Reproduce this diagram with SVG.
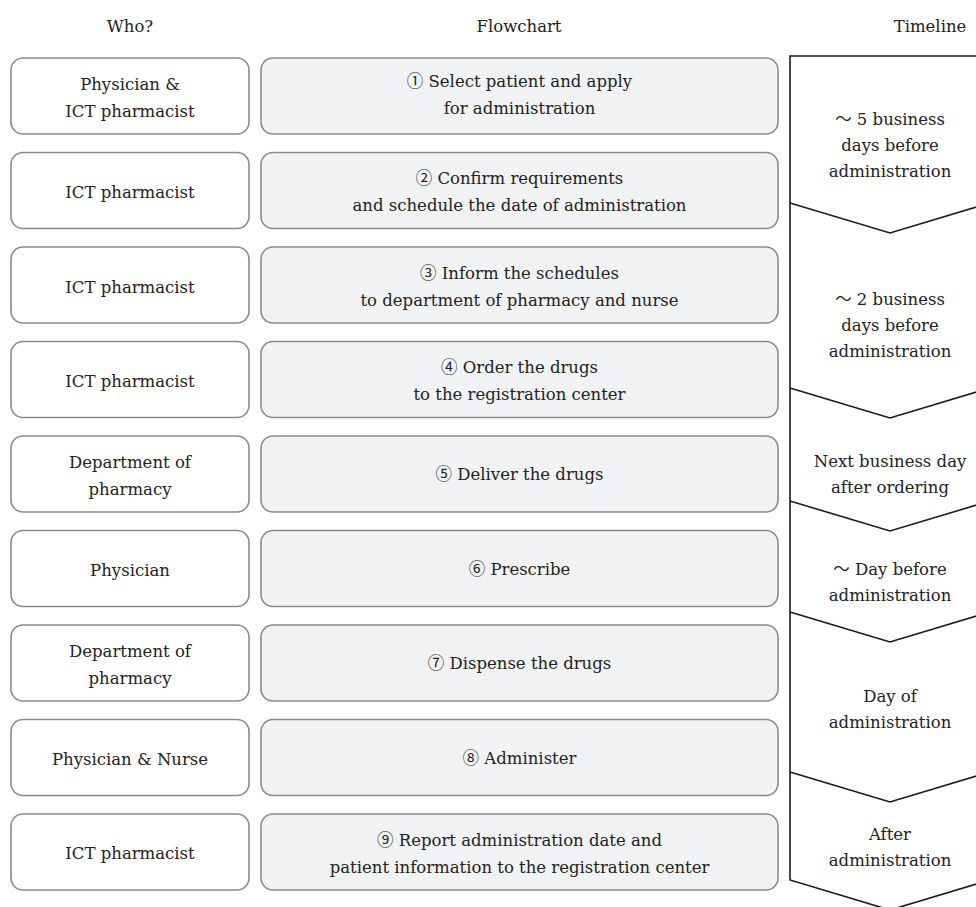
<svg xmlns="http://www.w3.org/2000/svg" width="976" height="907" viewBox="0 0 976 907">
<style>
text{font-family:"DejaVu Serif","Liberation Serif","Noto Sans CJK JP",serif;font-size:16.5px;fill:#222222;text-anchor:middle}
.who rect{fill:#ffffff;stroke:#8a8a8a;stroke-width:1.6}
.step rect{fill:#f1f2f4;stroke:#8a8a8a;stroke-width:1.6}
.tl{fill:none;stroke:#1a1a1a;stroke-width:1.6;stroke-linejoin:miter}
</style>
<rect width="976" height="907" fill="#ffffff"/>
<g id="headers">
<text x="130" y="32">Who?</text>
<text x="519" y="32">Flowchart</text>
<text x="930" y="32">Timeline</text>
</g>
<g id="who1" class="who"><rect x="11" y="58" width="238" height="76" rx="12"/><text x="130" y="90">Physician &amp;</text><text x="130" y="117">ICT pharmacist</text></g>
<g id="who2" class="who"><rect x="11" y="152.5" width="238" height="76" rx="12"/><text x="130" y="198">ICT pharmacist</text></g>
<g id="who3" class="who"><rect x="11" y="247" width="238" height="76" rx="12"/><text x="130" y="292.5">ICT pharmacist</text></g>
<g id="who4" class="who"><rect x="11" y="341.5" width="238" height="76" rx="12"/><text x="130" y="387">ICT pharmacist</text></g>
<g id="who5" class="who"><rect x="11" y="436" width="238" height="76" rx="12"/><text x="130" y="468">Department of</text><text x="130" y="495">pharmacy</text></g>
<g id="who6" class="who"><rect x="11" y="530.5" width="238" height="76" rx="12"/><text x="130" y="576">Physician</text></g>
<g id="who7" class="who"><rect x="11" y="625" width="238" height="76" rx="12"/><text x="130" y="657">Department of</text><text x="130" y="684">pharmacy</text></g>
<g id="who8" class="who"><rect x="11" y="719.5" width="238" height="76" rx="12"/><text x="130" y="765">Physician &amp; Nurse</text></g>
<g id="who9" class="who"><rect x="11" y="814" width="238" height="76" rx="12"/><text x="130" y="859">ICT pharmacist</text></g>

<g id="step1" class="step"><rect x="261" y="58" width="517" height="76" rx="12"/><text x="519.5" y="87">① Select patient and apply</text><text x="519.5" y="114">for administration</text></g>
<g id="step2" class="step"><rect x="261" y="152.5" width="517" height="76" rx="12"/><text x="519.5" y="184">② Confirm requirements</text><text x="519.5" y="211">and schedule the date of administration</text></g>
<g id="step3" class="step"><rect x="261" y="247" width="517" height="76" rx="12"/><text x="519.5" y="278.5">③ Inform the schedules</text><text x="519.5" y="305.5">to department of pharmacy and nurse</text></g>
<g id="step4" class="step"><rect x="261" y="341.5" width="517" height="76" rx="12"/><text x="519.5" y="373">④ Order the drugs</text><text x="519.5" y="400">to the registration center</text></g>
<g id="step5" class="step"><rect x="261" y="436" width="517" height="76" rx="12"/><text x="519.5" y="480">⑤ Deliver the drugs</text></g>
<g id="step6" class="step"><rect x="261" y="530.5" width="517" height="76" rx="12"/><text x="519.5" y="574.5">⑥ Prescribe</text></g>
<g id="step7" class="step"><rect x="261" y="625" width="517" height="76" rx="12"/><text x="519.5" y="669">⑦ Dispense the drugs</text></g>
<g id="step8" class="step"><rect x="261" y="719.5" width="517" height="76" rx="12"/><text x="519.5" y="763.5">⑧ Administer</text></g>
<g id="step9" class="step"><rect x="261" y="814" width="517" height="76" rx="12"/><text x="519.5" y="845.5">⑨ Report administration date and</text><text x="519.5" y="872.5">patient information to the registration center</text></g>

<g id="timeline">
<path class="tl" d="M990 56 H790 V880 L890 910 L990 880"/>
<path class="tl" d="M790 203 L890 233 L990 203"/>
<path class="tl" d="M790 388 L890 418 L990 388"/>
<path class="tl" d="M790 501 L890 531 L990 501"/>
<path class="tl" d="M790 612 L890 642 L990 612"/>
<path class="tl" d="M790 772 L890 802 L990 772"/>
<text x="890" y="125">～ 5 business</text>
<text x="890" y="151">days before</text>
<text x="890" y="177">administration</text>
<text x="890" y="305">～ 2 business</text>
<text x="890" y="331">days before</text>
<text x="890" y="357">administration</text>
<text x="890" y="467">Next business day</text>
<text x="890" y="493">after ordering</text>
<text x="890" y="575">～ Day before</text>
<text x="890" y="601">administration</text>
<text x="890" y="702">Day of</text>
<text x="890" y="728">administration</text>
<text x="890" y="840">After</text>
<text x="890" y="866">administration</text>
</g>
</svg>
